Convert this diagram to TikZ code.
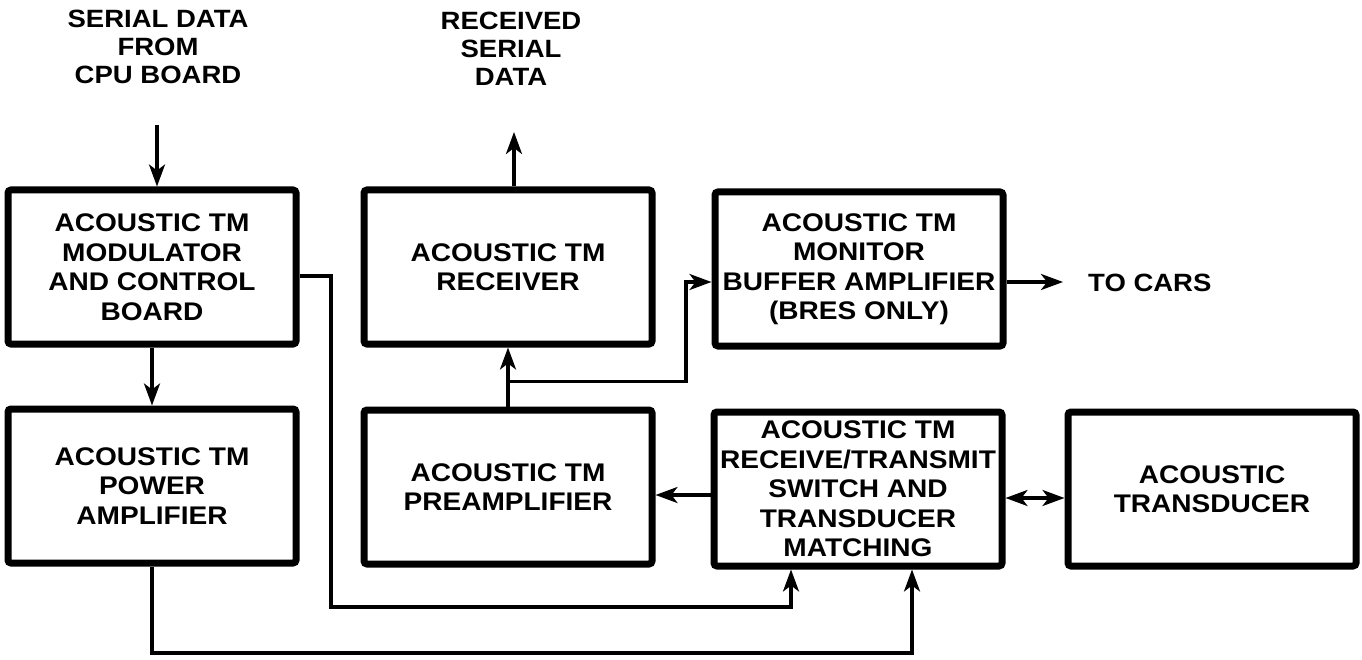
\documentclass[tikz,border=0pt]{standalone}
\usepackage{fontspec}
\setmainfont{Liberation Sans}[FakeStretch=1.1]
\usetikzlibrary{arrows.meta,calc}
\begin{document}
\begin{tikzpicture}[x=1pt,y=-1pt,
  blk/.style={draw,line width=7pt,rounded corners=3pt,minimum width=288pt,minimum height=154pt,align=center,font=\fontsize{25.5}{29.5}\selectfont\bfseries,inner sep=0pt},
  wire/.style={line width=3.2pt},
  arr/.style={wire,-{Stealth[length=22pt,width=16pt,inset=6pt]}},
  darr/.style={wire,{Stealth[length=22pt,width=16pt,inset=6pt]}-{Stealth[length=22pt,width=16pt,inset=6pt]}},
  lbl/.style={align=center,font=\fontsize{25}{28}\selectfont\bfseries,inner sep=0pt}]
\useasboundingbox (0,0) rectangle (1362,660);
% blocks
\node[blk] (mod) at (152,267) {ACOUSTIC TM\\MODULATOR\\AND CONTROL\\BOARD};
\node[blk] (pwr) at (152,486) {ACOUSTIC TM\\POWER\\AMPLIFIER};
\node[blk] (rcv) at (508,267) {ACOUSTIC TM\\RECEIVER};
\node[blk] (pre) at (508,487) {ACOUSTIC TM\\PREAMPLIFIER};
\node[blk] (mon) at (859,269) {ACOUSTIC TM\\MONITOR\\BUFFER AMPLIFIER\\(BRES ONLY)};
\node[blk] (rt) at (858,489) {ACOUSTIC TM\\RECEIVE/TRANSMIT\\SWITCH AND\\TRANSDUCER\\MATCHING};
\node[blk] (trn) at (1212,489) {ACOUSTIC\\TRANSDUCER};
% labels
\node[lbl,anchor=north] (sd) at (158,10) {SERIAL DATA\\FROM\\CPU BOARD};
\node[lbl,anchor=north] (rd) at (511,12) {RECEIVED\\SERIAL\\DATA};
\node[lbl,anchor=west] (tocars) at (1088,283) {TO CARS};
% coordinates
\coordinate (sin) at (157,125);
\coordinate (rout) at (514,132);
\coordinate (m1) at (331,276);
\coordinate (c1) at (791,607);
\coordinate (c2) at (912,653);
\coordinate (k) at (686,282);
\coordinate (tc) at (1063,282);
\coordinate (p1) at (0,495);
\coordinate (p2) at (0,498);
% connectors
\draw[arr] (sin) -- (sin |- mod.north);
\draw[arr] (rcv.north -| rout) -- (rout);
\draw[arr] (mod.south) -- (pwr.north);
\draw[arr] (mod.east |- m1) -- (m1) |- (c1) -- (c1 |- rt.south);
\draw[arr] (pwr.south) |- (c2) -- (c2 |- rt.south);
\draw[arr] (pre.north) -- (rcv.south);
\path (pre.north) ++(0,-25) coordinate (j);
\draw[arr] (j) -| (k) -- (k -| mon.west);
\draw[arr] (mon.east |- tc) -- (tc);
\draw[arr] (rt.west |- p1) -- (pre.east |- p1);
\draw[darr] (rt.east |- p2) -- (trn.west |- p2);
\end{tikzpicture}
\end{document}
